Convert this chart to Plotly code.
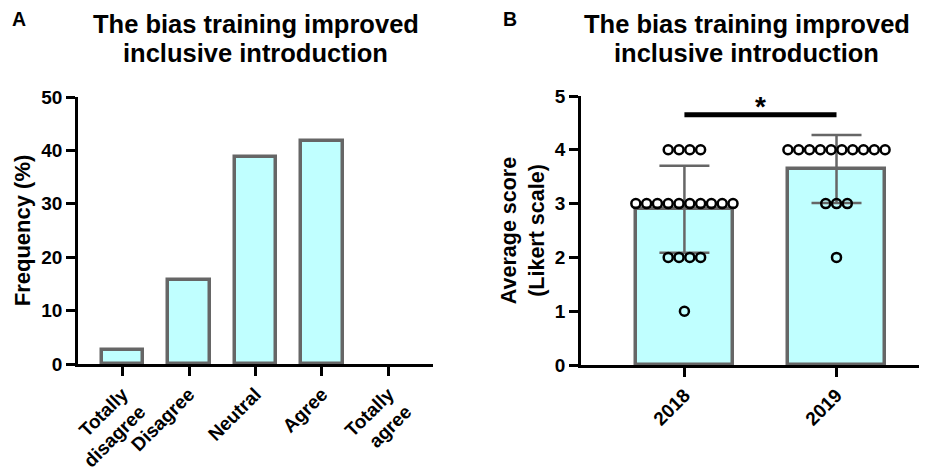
import numpy as np
import plotly.graph_objects as go

# ---- Data ----
categories_a = ["Totally<br>disagree", "Disagree", "Neutral", "Agree", "Totally<br>agree"]
freq_a = [2.6, 15.8, 38.8, 41.7, 0.0]

years_b = ["2018", "2019"]
# individual scores (Likert) and counts at each score
scores_levels = [4, 3, 2, 1]
counts_2018 = [4, 10, 4, 1]
counts_2019 = [10, 3, 1, 0]

title_lines = ["The bias training improved", "inclusive introduction"]

FONT = "Arial, Liberation Sans, sans-serif"
BAR_FILL = "#C0FFFF"
BAR_LINE = "#666666"

fig = go.Figure()

# Panel A bars (no outline on empty bar)
fig.add_trace(go.Bar(
    x=list(range(len(categories_a))), y=freq_a, width=0.63,
    marker=dict(color=BAR_FILL,
                line=dict(color=BAR_LINE, width=[3.5 if v > 0 else 0 for v in freq_a])),
    xaxis="x", yaxis="y", showlegend=False, hoverinfo="skip"))

# Panel B: expand scores
groups = []
for counts in (counts_2018, counts_2019):
    vals = []
    for lvl, c in zip(scores_levels, counts):
        vals += [lvl] * c
    groups.append(np.array(vals, dtype=float))
means = [g.mean() for g in groups]
sds = [g.std(ddof=1) for g in groups]

fig.add_trace(go.Bar(
    x=[0, 1], y=means, width=0.64,
    marker=dict(color=BAR_FILL, line=dict(color=BAR_LINE, width=3.5)),
    xaxis="x2", yaxis="y2", showlegend=False, hoverinfo="skip"))

fig.add_trace(go.Scatter(
    x=[0, 1], y=means, mode="markers", marker=dict(size=1, color="rgba(0,0,0,0)"),
    error_y=dict(type="data", array=sds, visible=True, color=BAR_LINE, thickness=2.5, width=25),
    xaxis="x2", yaxis="y2", showlegend=False, hoverinfo="skip"))

# scatter points spread horizontally in rows
spacing = 0.071
px, py = [], []
for gi, counts in enumerate((counts_2018, counts_2019)):
    for lvl, c in zip(scores_levels, counts):
        for i in range(c):
            px.append(gi + (i - (c - 1) / 2) * spacing)
            py.append(lvl)
fig.add_trace(go.Scatter(
    x=px, y=py, mode="markers",
    marker=dict(symbol="circle-open", size=9, color="black", line=dict(width=2.5, color="black")),
    xaxis="x2", yaxis="y2", showlegend=False, hoverinfo="skip", cliponaxis=False))

# page body has an 8px margin, so the figure is shifted by 8px
OFF = 8
W, H = 927 - OFF, 469 - OFF
def dx(a, b):
    return [(a - OFF) / W, min(1.0, (b - OFF) / W)]
def dy(top, bottom):
    return [1 - (bottom - OFF) / H, 1 - (top - OFF) / H]
def pxx(x):
    return (x - OFF) / W
def pyy(y):
    return 1 - (y - OFF) / H

axis_common = dict(showline=True, linecolor="black", linewidth=2.5, ticks="outside",
                   ticklen=9, tickwidth=2.5, tickcolor="black", showgrid=False, zeroline=False,
                   automargin=False,
                   tickfont=dict(family=FONT, size=19, color="black", weight="bold"))

fig.update_layout(
    width=W, height=H, margin=dict(l=0, r=0, t=0, b=0),
    plot_bgcolor="white", paper_bgcolor="white",
    font=dict(family=FONT, color="black"),
    xaxis=dict(domain=dx(78, 433), range=[-0.67, 4.67], tickvals=list(range(5)),
               ticktext=categories_a, tickangle=-45, anchor="y", **axis_common),
    yaxis=dict(domain=dy(97, 364), range=[0, 50], dtick=10, anchor="x",
               title=dict(text="Frequency (%)", font=dict(family=FONT, size=22, weight="bold"), standoff=5),
               **axis_common),
    xaxis2=dict(domain=dx(581, 927), range=[-0.68, 1.595], tickvals=[0, 1],
                ticktext=years_b, tickangle=-45, anchor="y2", **axis_common),
    yaxis2=dict(domain=dy(96, 365), range=[0, 5], dtick=1, anchor="x2",
                title=dict(text="Average score<br>(Likert scale)", font=dict(family=FONT, size=21.5, weight="bold"), standoff=5),
                **axis_common),
    bargap=0,
)

# significance bar
fig.add_shape(type="line", x0=0, x1=1, y0=4.65, y1=4.65, xref="x2", yref="y2",
              line=dict(color="black", width=5))
fig.add_annotation(x=0.5, y=4.65, xref="x2", yref="y2", text="<b>*</b>", showarrow=False,
                   yanchor="bottom", yshift=-9, font=dict(family=FONT, size=28, color="black"))

# titles (two lines each)
for cx in ((78 + 433) / 2, (581 + 912) / 2):
    for line, cy in zip(title_lines, (24, 53)):
        fig.add_annotation(x=pxx(cx), y=pyy(cy), xref="paper", yref="paper", text="<b>" + line + "</b>",
                           showarrow=False, xanchor="center", yanchor="middle",
                           font=dict(family=FONT, size=25.5, color="black"))

# panel labels
for lab, lx in (("A", 10), ("B", 501)):
    fig.add_annotation(x=pxx(lx), y=pyy(19), xref="paper", yref="paper", text="<b>" + lab + "</b>",
                       showarrow=False, xanchor="left", yanchor="middle",
                       font=dict(family=FONT, size=19.5, color="black"))

fig.write_html("out.html")
